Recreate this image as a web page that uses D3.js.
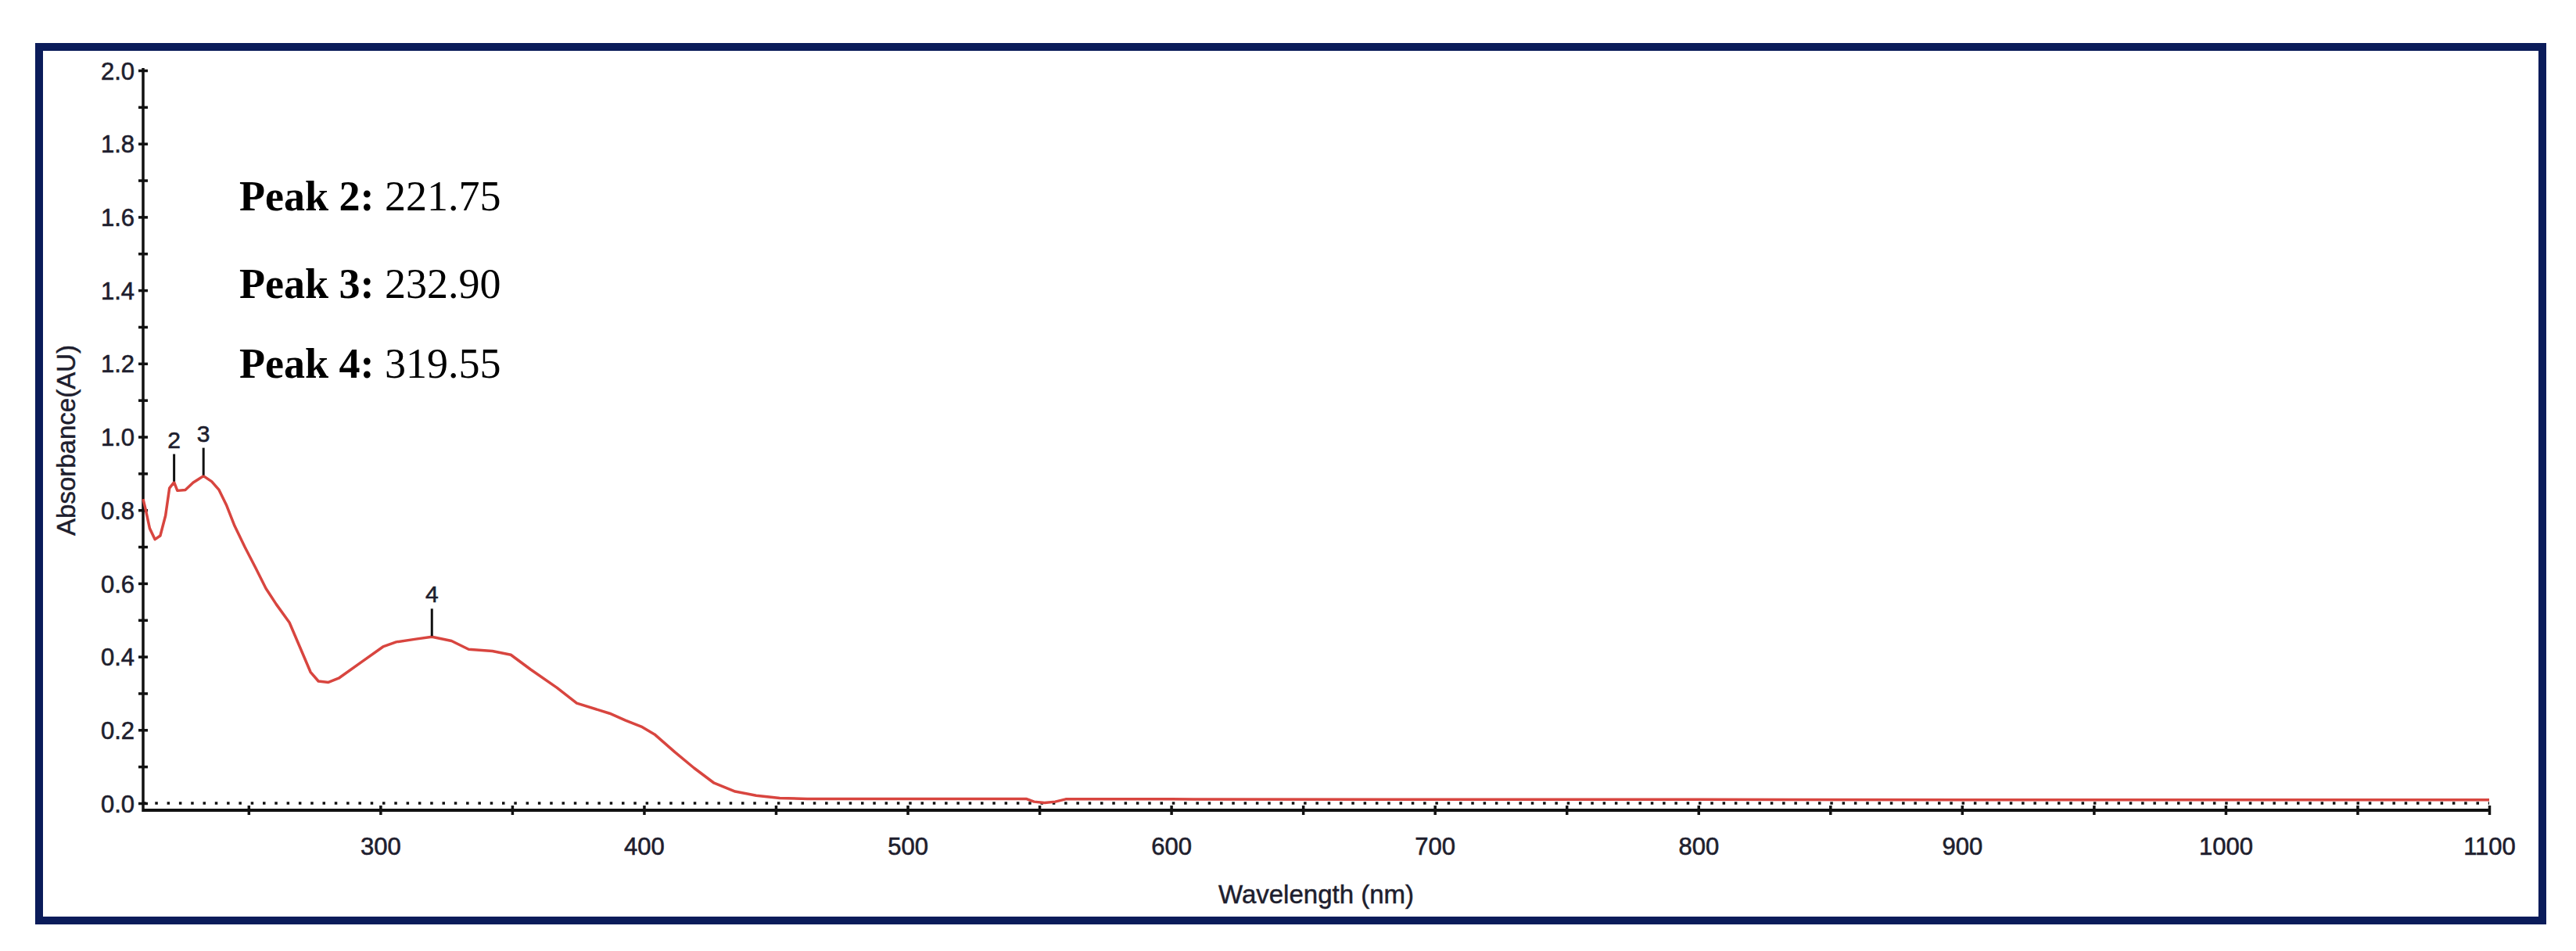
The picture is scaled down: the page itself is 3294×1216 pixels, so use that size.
<!DOCTYPE html>
<html>
<head>
<meta charset="utf-8">
<script src="https://cdn.jsdelivr.net/npm/d3@7"></script>
<style>
  body { margin: 0; background: #fff; }
  svg { display: block; }
</style>
</head>
<body>
<svg id="chart" width="3294" height="1216"></svg>
<script>
// spectrum (nm, AU)
var wavelength = [210, 211, 212.5, 214.5, 216.5, 218.5, 220, 221.75, 223, 226, 229, 232.9, 236, 238.8,
  241.7, 244.7, 248.6, 252.7, 256.6, 260.5, 265.5, 269.3, 273.5, 276.5, 280.3, 284.2, 293, 301, 306, 313.5,
  319.55, 327, 333.5, 342.5, 349.5, 357, 367, 374.5, 387, 393, 399, 404, 411.8, 419, 426.6, 434.6, 442.6,
  451.5, 462, 500, 545, 548, 552, 556, 560, 600, 700, 800, 900, 1000, 1100];
var absorbance = [0.83, 0.80, 0.75, 0.72, 0.73, 0.785, 0.86, 0.876, 0.853, 0.855, 0.875, 0.893, 0.878, 0.855,
  0.812, 0.757, 0.699, 0.642, 0.586, 0.543, 0.493, 0.429, 0.358, 0.333, 0.330, 0.341, 0.386, 0.427, 0.44, 0.448,
  0.454, 0.443, 0.42, 0.415, 0.405, 0.365, 0.315, 0.273, 0.245, 0.226, 0.209, 0.188, 0.139, 0.096, 0.055, 0.032, 0.021,
  0.014, 0.012, 0.012, 0.012, 0.004, 0.001, 0.004, 0.011, 0.011, 0.010, 0.010, 0.009, 0.009, 0.009];

var peakNums = [2, 3, 4];
var peakWl = [221.75, 232.90, 319.55];
var peakAbs = [0.876, 0.893, 0.454];
var peakText = ["221.75", "232.90", "319.55"];

var xTicks = d3.range(250, 1101, 50);
var yTicks = d3.range(0, 21).map(function(i) { return i / 10; });

var svg = d3.select("#chart");

var x = d3.scaleLinear().domain([210, 1100]).range([183, 3183]);
var y = d3.scaleLinear().domain([0, 2]).range([1027, 90]);
var axisY = y(0) + 9;

svg.append("rect").attr("width", 3294).attr("height", 1216).attr("fill", "#fff");

// navy frame round the figure
svg.append("rect")
  .attr("x", 50).attr("y", 60).attr("width", 3201).attr("height", 1117)
  .attr("fill", "none").attr("stroke", "#0b1c5a").attr("stroke-width", 10);

// dotted zero line
svg.append("line")
  .attr("x1", x(210)).attr("x2", x(1100))
  .attr("y1", y(0)).attr("y2", y(0))
  .attr("stroke", "#111").attr("stroke-width", 3.5)
  .attr("stroke-dasharray", "3.5,11.8");

// x axis
var xAxis = svg.append("g")
  .attr("transform", "translate(0," + axisY + ")")
  .call(d3.axisBottom(x).tickValues(xTicks).tickSize(6)
    .tickFormat(function(d) { return d % 100 == 0 ? d : ""; }));
xAxis.select(".domain").remove();
xAxis.selectAll(".tick line").attr("y1", -6).attr("y2", 6)
  .attr("stroke", "#111").attr("stroke-width", 3.5);
xAxis.selectAll(".tick text").attr("y", 57).attr("dy", 0)
  .attr("font-family", "Liberation Sans, Arial, sans-serif").attr("font-size", 31)
  .attr("fill", "#1e1e2e").attr("stroke", "#1e1e2e").attr("stroke-width", 0.6);
xAxis.append("line")
  .attr("x1", x(210) - 1).attr("x2", x(1100)).attr("y1", 0).attr("y2", 0)
  .attr("stroke", "#111").attr("stroke-width", 4);

// y axis
var yAxis = svg.append("g")
  .attr("transform", "translate(" + x(210) + ",0)")
  .call(d3.axisLeft(y).tickValues(yTicks).tickSize(6)
    .tickFormat(function(d, i) { return i % 2 == 0 ? d.toFixed(1) : ""; }));
yAxis.select(".domain").remove();
yAxis.selectAll(".tick line").attr("x1", -6).attr("x2", 6)
  .attr("stroke", "#111").attr("stroke-width", 3.5);
yAxis.selectAll(".tick text").attr("x", -11).attr("dy", "0.36em")
  .attr("font-family", "Liberation Sans, Arial, sans-serif").attr("font-size", 31)
  .attr("fill", "#1e1e2e").attr("stroke", "#1e1e2e").attr("stroke-width", 0.6);
yAxis.append("line")
  .attr("x1", 0).attr("x2", 0).attr("y1", y(2) - 3).attr("y2", axisY + 2)
  .attr("stroke", "#111").attr("stroke-width", 3.5);

// axis titles
svg.append("text")
  .attr("x", (x(210) + x(1100)) / 2).attr("y", 1155)
  .attr("text-anchor", "middle")
  .attr("font-family", "Liberation Sans, Arial, sans-serif").attr("font-size", 33)
  .attr("fill", "#1e1e2e").attr("stroke", "#1e1e2e").attr("stroke-width", 0.5)
  .text("Wavelength (nm)");
svg.append("text")
  .attr("transform", "translate(96,563) rotate(-90)")
  .attr("text-anchor", "middle")
  .attr("font-family", "Liberation Sans, Arial, sans-serif").attr("font-size", 33)
  .attr("fill", "#1e1e2e").attr("stroke", "#1e1e2e").attr("stroke-width", 0.5)
  .text("Absorbance(AU)");

// spectrum
var line = d3.line()
  .x(function(d, i) { return x(wavelength[i]); })
  .y(function(d) { return y(d); });
svg.append("path")
  .attr("d", line(absorbance))
  .attr("fill", "none").attr("stroke", "#d8453f").attr("stroke-width", 3.5)
  .attr("stroke-linejoin", "round");

// peak markers
peakNums.forEach(function(n, i) {
  var px = x(peakWl[i]), py = y(peakAbs[i]);
  svg.append("line")
    .attr("x1", px).attr("x2", px).attr("y1", py - 1).attr("y2", py - 36)
    .attr("stroke", "#111").attr("stroke-width", 3);
  svg.append("text")
    .attr("x", px).attr("y", py - 44)
    .attr("text-anchor", "middle")
    .attr("font-family", "Liberation Sans, Arial, sans-serif").attr("font-size", 30)
    .attr("fill", "#1e1e2e").attr("stroke", "#1e1e2e").attr("stroke-width", 0.6)
    .text(n);
});

// peak list, top left
var labelY = [269, 381, 483];
peakNums.forEach(function(n, i) {
  var t = svg.append("text")
    .attr("x", 306).attr("y", labelY[i])
    .attr("font-family", "Liberation Serif, Times New Roman, serif").attr("font-size", 54).attr("fill", "#000");
  t.append("tspan").attr("font-weight", "bold").text("Peak " + n + ": ");
  t.append("tspan").text(peakText[i]);
});
</script>
</body>
</html>
